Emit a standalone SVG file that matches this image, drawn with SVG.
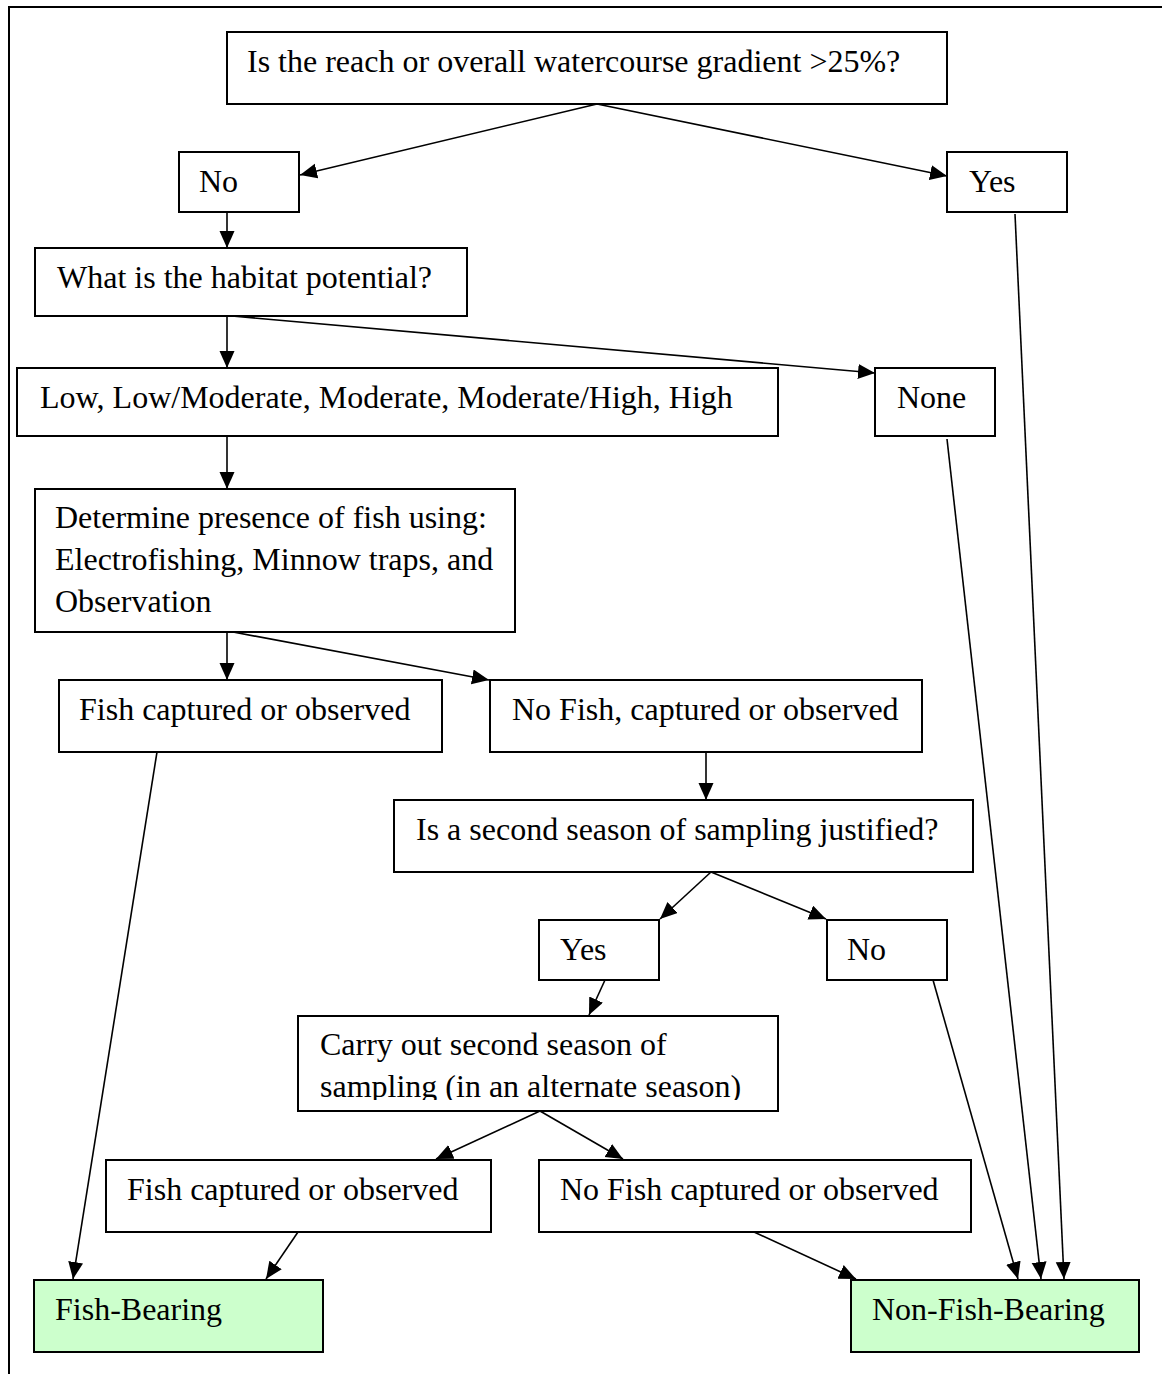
<svg xmlns="http://www.w3.org/2000/svg" width="1162" height="1374" viewBox="0 0 1162 1374">
  <style>
    .box { fill: #ffffff; stroke: #000000; stroke-width: 2; }
    .term { fill: #ccffcc; stroke: #000000; stroke-width: 2; }
    .lbl { font-family: "Liberation Serif", "Times New Roman", serif; font-size: 32px; fill: #000000; }
    .conn { fill: none; stroke: #000000; stroke-width: 1.6; marker-end: url(#arrow); }
    .frame { fill: none; stroke: #000000; stroke-width: 2; }
  </style>
  <defs>
    <marker id="arrow" markerUnits="userSpaceOnUse" markerWidth="18" markerHeight="16" refX="17" refY="7.5" orient="auto">
      <path d="M0,0 L17,7.5 L0,15 z" fill="#000000"/>
    </marker>
    <clipPath id="carryClip">
      <rect x="298" y="1016" width="480" height="84"/>
    </clipPath>
  </defs>

  <rect width="1162" height="1374" fill="#ffffff"/>
  <path class="frame" d="M1162,7 L9,7 L9,1374"/>

  <g id="connectors">
    <path class="conn" d="M597,104 L300,175"/>
    <path class="conn" d="M597,104 L947,176"/>
    <path class="conn" d="M227,212 L227,248"/>
    <path class="conn" d="M227,316 L227,368"/>
    <path class="conn" d="M232,316 L875,373"/>
    <path class="conn" d="M227,436 L227,489"/>
    <path class="conn" d="M227,632 L227,680"/>
    <path class="conn" d="M233,632 L489,680"/>
    <path class="conn" d="M706,752 L706,800"/>
    <path class="conn" d="M711,872 L660,919"/>
    <path class="conn" d="M711,872 L826,919"/>
    <path class="conn" d="M605,980 L589,1015"/>
    <path class="conn" d="M540,1111 L436,1159"/>
    <path class="conn" d="M540,1111 L623,1159"/>
    <path class="conn" d="M157,752 L73,1279"/>
    <path class="conn" d="M298,1232 L266,1279"/>
    <path class="conn" d="M754,1232 L856,1279"/>
    <path class="conn" d="M933,980 L1018,1279"/>
    <path class="conn" d="M947,439 L1041,1279"/>
    <path class="conn" d="M1015,214 L1064,1279"/>
  </g>

  <g id="q-gradient">
    <rect class="box" x="227" y="32" width="720" height="72"/>
    <text class="lbl" x="247" y="72">Is the reach or overall watercourse gradient &gt;25%?</text>
  </g>
  <g id="gradient-no">
    <rect class="box" x="179" y="152" width="120" height="60"/>
    <text class="lbl" x="199" y="192">No</text>
  </g>
  <g id="gradient-yes">
    <rect class="box" x="947" y="152" width="120" height="60"/>
    <text class="lbl" x="969" y="192">Yes</text>
  </g>
  <g id="q-habitat">
    <rect class="box" x="35" y="248" width="432" height="68"/>
    <text class="lbl" x="57" y="288">What is the habitat potential?</text>
  </g>
  <g id="habitat-levels">
    <rect class="box" x="17" y="368" width="761" height="68"/>
    <text class="lbl" x="40" y="408">Low, Low/Moderate, Moderate, Moderate/High, High</text>
  </g>
  <g id="habitat-none">
    <rect class="box" x="875" y="368" width="120" height="68"/>
    <text class="lbl" x="897" y="408">None</text>
  </g>
  <g id="determine">
    <rect class="box" x="35" y="489" width="480" height="143"/>
    <text class="lbl" x="55" y="528">Determine presence of fish using:</text>
    <text class="lbl" x="55" y="570">Electrofishing, Minnow traps, and</text>
    <text class="lbl" x="55" y="612">Observation</text>
  </g>
  <g id="fish-observed-1">
    <rect class="box" x="59" y="680" width="383" height="72"/>
    <text class="lbl" x="79" y="720">Fish captured or observed</text>
  </g>
  <g id="no-fish-1">
    <rect class="box" x="490" y="680" width="432" height="72"/>
    <text class="lbl" x="512" y="720">No Fish, captured or observed</text>
  </g>
  <g id="q-second-season">
    <rect class="box" x="394" y="800" width="579" height="72"/>
    <text class="lbl" x="416" y="840">Is a second season of sampling justified?</text>
  </g>
  <g id="second-yes">
    <rect class="box" x="539" y="920" width="120" height="60"/>
    <text class="lbl" x="560" y="960">Yes</text>
  </g>
  <g id="second-no">
    <rect class="box" x="827" y="920" width="120" height="60"/>
    <text class="lbl" x="847" y="960">No</text>
  </g>
  <g id="carry-out">
    <rect class="box" x="298" y="1016" width="480" height="95"/>
    <g clip-path="url(#carryClip)">
      <text class="lbl" x="320" y="1055">Carry out second season of</text>
      <text class="lbl" x="320" y="1097">sampling (in an alternate season)</text>
    </g>
  </g>
  <g id="fish-observed-2">
    <rect class="box" x="106" y="1160" width="385" height="72"/>
    <text class="lbl" x="127" y="1200">Fish captured or observed</text>
  </g>
  <g id="no-fish-2">
    <rect class="box" x="539" y="1160" width="432" height="72"/>
    <text class="lbl" x="560" y="1200">No Fish captured or observed</text>
  </g>
  <g id="fish-bearing">
    <rect class="term" x="34" y="1280" width="289" height="72"/>
    <text class="lbl" x="55" y="1320">Fish-Bearing</text>
  </g>
  <g id="non-fish-bearing">
    <rect class="term" x="851" y="1280" width="288" height="72"/>
    <text class="lbl" x="872" y="1320">Non-Fish-Bearing</text>
  </g>
</svg>
